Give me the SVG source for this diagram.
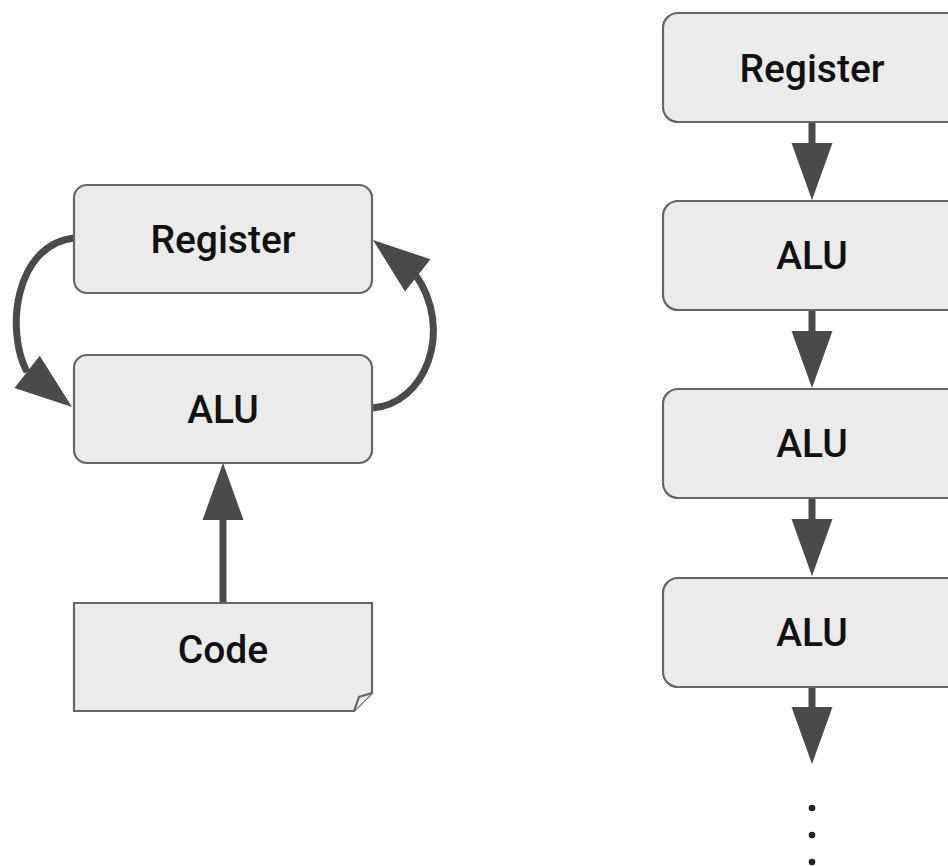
<svg xmlns="http://www.w3.org/2000/svg" xmlns:xlink="http://www.w3.org/1999/xlink" width="948" height="866" viewBox="0 0 948 866">
  <style>
    .box { fill: #ebebeb; stroke: #666; stroke-width: 2.2; }
    .lbl { font-family: Roboto, "Liberation Sans", sans-serif; font-size: 39px; font-weight: 500; fill: #111; text-anchor: middle; }
    .conn { fill: none; stroke: #4a4a4a; stroke-width: 7; }
    .head { fill: #4a4a4a; }
  </style>
  <defs>
    <path id="head" class="head" d="M0,0 L-57,-20.5 L-57,20.5 Z"/>
  </defs>
  <rect width="948" height="866" fill="#fff"/>

  <g id="connectors">
    <path class="conn" d="M74,238 C15,245 5,330 27,372"/>
    <use xlink:href="#head" transform="translate(72,407) rotate(38)"/>
    <path class="conn" d="M372,408 C425,405 455,330 415,274"/>
    <use xlink:href="#head" transform="translate(373,240) rotate(218.3)"/>
    <path class="conn" d="M223,603 V518"/>
    <use xlink:href="#head" transform="translate(223,463) rotate(-90)"/>
    <path class="conn" d="M812,122 V146"/>
    <use xlink:href="#head" transform="translate(812,200) rotate(90)"/>
    <path class="conn" d="M812,310 V334"/>
    <use xlink:href="#head" transform="translate(812,388) rotate(90)"/>
    <path class="conn" d="M812,498 V522"/>
    <use xlink:href="#head" transform="translate(812,576) rotate(90)"/>
    <path class="conn" d="M812,687 V710"/>
    <use xlink:href="#head" transform="translate(812,764) rotate(90)"/>
  </g>

  <g id="left-register">
    <rect class="box" x="74" y="185" width="298" height="108" rx="13"/>
    <text class="lbl" x="223" y="253">Register</text>
  </g>
  <g id="left-alu">
    <rect class="box" x="74" y="355" width="298" height="108" rx="13"/>
    <text class="lbl" x="223" y="423">ALU</text>
  </g>
  <g id="code">
    <path class="box" d="M74,603 H372 V693 L354,711 H74 Z"/>
    <path class="box" d="M354,711 L359,697 L372,693"/>
    <text class="lbl" x="223" y="663">Code</text>
  </g>

  <g id="right-register">
    <rect class="box" x="663" y="13" width="300" height="109" rx="15"/>
    <text class="lbl" x="812" y="82">Register</text>
  </g>
  <g id="right-alu-1">
    <rect class="box" x="663" y="201" width="300" height="109" rx="15"/>
    <text class="lbl" x="812" y="269">ALU</text>
  </g>
  <g id="right-alu-2">
    <rect class="box" x="663" y="389" width="300" height="109" rx="15"/>
    <text class="lbl" x="812" y="457">ALU</text>
  </g>
  <g id="right-alu-3">
    <rect class="box" x="663" y="578" width="300" height="109" rx="15"/>
    <text class="lbl" x="812" y="646">ALU</text>
  </g>

  <g id="ellipsis" fill="#222">
    <circle cx="812" cy="808" r="3.3"/>
    <circle cx="812" cy="835" r="3.3"/>
    <circle cx="812" cy="862" r="3.3"/>
  </g>
</svg>
